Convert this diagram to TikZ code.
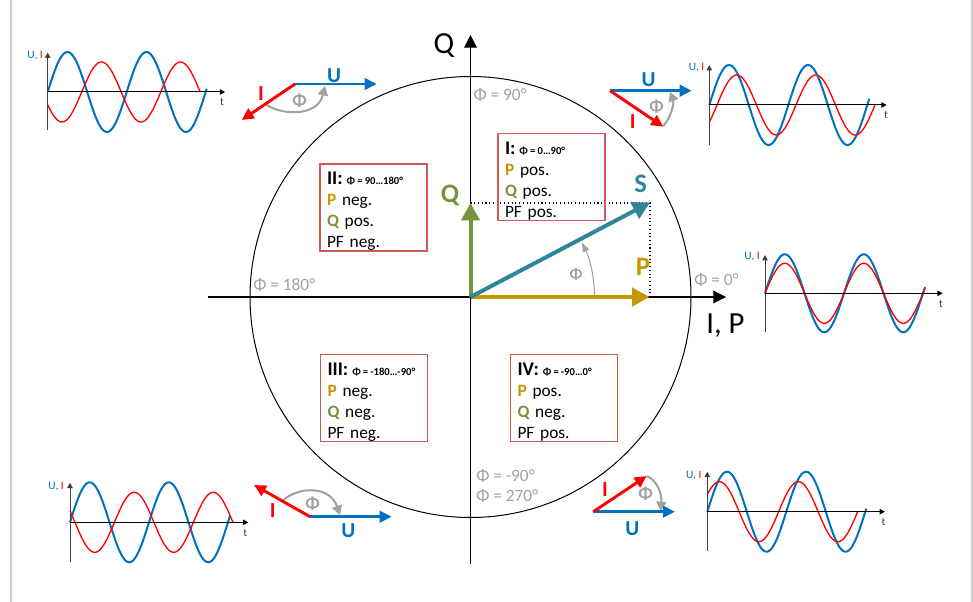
\documentclass[tikz,border=0pt]{standalone}
\usepackage{fontspec}
\setmainfont{Carlito}
\usetikzlibrary{arrows.meta}

\definecolor{uBlue}{RGB}{0,112,192}
\definecolor{iRed}{RGB}{255,0,0}
\definecolor{pGold}{RGB}{196,152,0}
\definecolor{qGreen}{RGB}{119,147,60}
\definecolor{sTeal}{RGB}{49,132,155}
\definecolor{phiGray}{RGB}{160,160,160}
\definecolor{boxRed}{RGB}{205,90,85}
\definecolor{frameGray}{RGB}{205,205,205}
\definecolor{tGray}{RGB}{64,64,64}

\begin{document}
\begin{tikzpicture}[x=0.75pt,y=0.75pt,yscale=-1,xscale=1,
	mainAxis/.style={line width=0.8pt,-{Triangle[length=9.5pt,width=9.5pt]}},
	vecArrow/.style={line width=3pt,-{Triangle[length=13pt,width=13.5pt]}},
	phasorArrow/.style={line width=2.2pt,-{Triangle[length=9pt,width=8.5pt]}},
	phiArc/.style={phiGray,line width=1.5pt,-{Triangle[length=7pt,width=7.5pt]}},
	waveAxis/.style={line width=0.75pt,-{Triangle[length=4pt,width=4pt]}},
	blueWave/.style={uBlue,line width=1.5pt},
	redWave/.style={iRed,line width=1pt},
	quadBox/.style={draw=boxRed,line width=1pt,inner xsep=5.25pt,inner ysep=0pt,minimum height=65.25pt,text width=69.75pt,align=left,font=\fontsize{13pt}{15.75pt}\selectfont\frenchspacing},
	phiLbl/.style={phiGray,inner sep=0pt,anchor=base west,font=\fontsize{13pt}{15pt}\selectfont},
	axisLbl/.style={inner sep=0pt,font=\fontsize{23pt}{26pt}\selectfont},
	vecLbl/.style={inner sep=0pt,font=\fontsize{20pt}{24pt}\selectfont\bfseries},
	phasorLbl/.style={inner sep=0pt,font=\fontsize{16pt}{19pt}\selectfont\bfseries},
	phasorPhi/.style={phiGray,inner sep=0pt,font=\fontsize{13.5pt}{16pt}\selectfont\bfseries},
	uiLbl/.style={inner sep=0pt,anchor=base east,font=\fontsize{8.5pt}{10pt}\selectfont},
	tLbl/.style={tGray,inner sep=0pt,anchor=base,font=\fontsize{8.5pt}{10pt}\selectfont}]
	\useasboundingbox (0,0) rectangle (973,602);
	
	%Frame
	\draw [frameGray,line width=1.5pt] (11,-2) -- (11,604);
	\draw [frameGray,line width=1.5pt] (971.5,-2) -- (971.5,604);
	
	%Shape: Circle
	\draw [line width=0.75pt] (470.5,297) circle [radius=220.5];
	%Main axes
	\draw [mainAxis] (208,297) -- (726,297);
	\draw [mainAxis] (470.5,564) -- (470.5,35);
	\node [axisLbl,anchor=base] (lblQaxis) at (444,54) {Q};
	\node [axisLbl,anchor=base west] (lblIP) at (706,333) {I, P};
	
	%Vectors
	\coordinate (O) at (470.5,297);
	\coordinate (Ptip) at (649.5,297);
	\coordinate (Qtip) at (470.5,203);
	\coordinate (Stip) at (650,202.5);
	\draw [dotted,line width=0.8pt] (Qtip) -- (650,203) -- (650,297);
	\draw [vecArrow,pGold] (O) -- (Ptip);
	\draw [vecArrow,qGreen] (O) -- (Qtip);
	\draw [vecArrow,sTeal] (O) -- (Stip);
	\node [vecLbl,text=sTeal] (lblS) at (640.7,184) {S};
	\node [vecLbl,text=pGold] (lblP) at (643,266.7) {P};
	\node [vecLbl,text=qGreen] (lblQ) at (450,195) {Q};
	%Curve Lines: angle
	\draw [phiGray,line width=0.75pt,-{Triangle[length=7pt,width=5pt]}] (594.5,297) arc [start angle=0,end angle=-26,radius=124];
	\node [phiGray,inner sep=0pt,font=\fontsize{12pt}{14pt}\selectfont\bfseries] (lblPhiMain) at (576,274) {Φ};
	
	%Angle labels on the circle
	\node [phiLbl] (phi90) at (473.3,101) {Φ = 90°};
	\node [phiLbl] (phi180) at (253,290.4) {Φ = 180°};
	\node [phiLbl] (phi0) at (694,285) {Φ = 0°};
	\node [phiLbl] (phiM90) at (476,481.7) {Φ = -90°};
	\node [phiLbl] (phi270) at (476,501.7) {Φ = 270°};
	
	%Quadrant boxes
	\node [quadBox] (boxI) at (551.5,177) {\rule{0pt}{15.5pt}{\fontsize{14.5pt}{15.75pt}\selectfont\bfseries I:}\hspace{3pt}{\fontsize{8pt}{9pt}\selectfont\bfseries Φ\hspace{1.6pt}=\hspace{1.6pt}0…90°}\\ \textcolor{pGold}{\bfseries P} pos.\\ \textcolor{qGreen}{\bfseries Q} pos.\\ PF pos.};
	\node [quadBox] (boxII) at (373.5,207.5) {\rule{0pt}{15.5pt}{\fontsize{14.5pt}{15.75pt}\selectfont\bfseries II:}\hspace{3pt}{\fontsize{8pt}{9pt}\selectfont\bfseries Φ\hspace{1.6pt}=\hspace{1.6pt}90…180°}\\ \textcolor{pGold}{\bfseries P} neg.\\ \textcolor{qGreen}{\bfseries Q} pos.\\ PF neg.};
	\node [quadBox] (boxIII) at (374,398) {\rule{0pt}{15.5pt}{\fontsize{14.5pt}{15.75pt}\selectfont\bfseries III:}\hspace{3pt}{\fontsize{8pt}{9pt}\selectfont\bfseries Φ\hspace{1.6pt}=\hspace{1.6pt}-180…-90°}\\ \textcolor{pGold}{\bfseries P} neg.\\ \textcolor{qGreen}{\bfseries Q} neg.\\ PF neg.};
	\node [quadBox] (boxIV) at (564,398) {\rule{0pt}{15.5pt}{\fontsize{14.5pt}{15.75pt}\selectfont\bfseries IV:}\hspace{3pt}{\fontsize{8pt}{9pt}\selectfont\bfseries Φ\hspace{1.6pt}=\hspace{1.6pt}-90…0°}\\ \textcolor{pGold}{\bfseries P} pos.\\ \textcolor{qGreen}{\bfseries Q} neg.\\ PF pos.};
	
	%Phasor: top left (II)
	\coordinate (tlO) at (295,84);
	\coordinate (tlU) at (376.7,84);
	\coordinate (tlI) at (241.7,120);
	\draw [phiArc] (266.7,105) .. controls (284,116) and (318,116) .. (325,86);
	\draw [phasorArrow,uBlue] (tlO) -- (tlU);
	\draw [phasorArrow,iRed] (tlO) -- (tlI);
	\node [phasorLbl,text=uBlue] (tlUlbl) at (334,75.5) {U};
	\node [phasorLbl,text=iRed] (tlIlbl) at (261,94) {I};
	\node [phasorPhi] (tlPhi) at (299.7,100.5) {Φ};
	
	%Phasor: top right (I)
	\coordinate (trO) at (610,90.7);
	\coordinate (trU) at (691.7,90.7);
	\coordinate (trI) at (663.3,126.7);
	\draw [phiArc] (663.3,126) .. controls (672,116) and (674,102) .. (670,92);
	\draw [phasorArrow,uBlue] (trO) -- (trU);
	\draw [phasorArrow,iRed] (trO) -- (trI);
	\node [phasorLbl,text=uBlue] (trUlbl) at (648.7,80) {U};
	\node [phasorLbl,text=iRed] (trIlbl) at (632.7,121.7) {I};
	\node [phasorPhi] (trPhi) at (656.5,106.3) {Φ};
	
	%Phasor: bottom left (III)
	\coordinate (blO) at (310,516.7);
	\coordinate (blU) at (391.7,516.7);
	\coordinate (blI) at (254,485);
	\draw [phiArc] (283.3,500) .. controls (300,486) and (330,486) .. (340,515);
	\draw [phasorArrow,uBlue] (blO) -- (blU);
	\draw [phasorArrow,iRed] (blO) -- (blI);
	\node [phasorLbl,text=uBlue] (blUlbl) at (348.3,531) {U};
	\node [phasorLbl,text=iRed] (blIlbl) at (272.7,510.7) {I};
	\node [phasorPhi] (blPhi) at (312.7,503.3) {Φ};
	
	%Phasor: bottom right (IV)
	\coordinate (brO) at (593.3,511.7);
	\coordinate (brU) at (675,511.7);
	\coordinate (brI) at (646.7,476);
	\draw [phiArc] (646.7,476) .. controls (657,480) and (662,494) .. (660.7,511);
	\draw [phasorArrow,uBlue] (brO) -- (brU);
	\draw [phasorArrow,iRed] (brO) -- (brI);
	\node [phasorLbl,text=uBlue] (brUlbl) at (632.3,528.5) {U};
	\node [phasorLbl,text=iRed] (brIlbl) at (605,489.3) {I};
	\node [phasorPhi] (brPhi) at (645.5,493.3) {Φ};
	
	%Waveform: top left
	\begin{scope}[shift={(47.7,92)}]
		\draw [blueWave] plot [domain=0:159,samples=120,smooth] (\x,{-40*sin(\x*4.557)});
		\draw [redWave] plot [domain=0:152.5,samples=120,smooth] (\x,{-30*sin(\x*4.557-155)});
		\draw [waveAxis,tGray] (0,38.5) -- (0,-39.5);
		\draw [waveAxis] (0,0) -- (177.5,0);
	\end{scope}
	\node [uiLbl] (tlUI) at (43,58.3) {\textcolor{uBlue}{U,} \textcolor{iRed}{I}};
	\node [tLbl] (tlT) at (222,106) {t};
	
	%Waveform: top right
	\begin{scope}[shift={(709.3,105)}]
		\draw [blueWave] plot [domain=0:160,samples=120,smooth] (\x,{-40*sin(\x*4.557)});
		\draw [redWave] plot [domain=0:165.7,samples=120,smooth] (\x,{-30*sin(\x*4.557-35)});
		\draw [waveAxis,tGray] (0,40) -- (0,-40);
		\draw [waveAxis] (0,0) -- (177.4,0);
	\end{scope}
	\node [uiLbl] (trUI) at (704.5,70.7) {\textcolor{uBlue}{U,} \textcolor{iRed}{I}};
	\node [tLbl] (trT) at (886,119) {t};
	
	%Waveform: middle right
	\begin{scope}[shift={(765,293.3)}]
		\draw [blueWave] plot [domain=0:160,samples=120,smooth] (\x,{-39*sin(\x*4.557)});
		\draw [redWave] plot [domain=0:160,samples=120,smooth] (\x,{-30*sin(\x*4.557)});
		\draw [waveAxis,tGray] (0,38.4) -- (0,-38.3);
		\draw [waveAxis] (0,0) -- (177.7,0);
	\end{scope}
	\node [uiLbl] (mrUI) at (760,259.3) {\textcolor{uBlue}{U,} \textcolor{iRed}{I}};
	\node [tLbl] (mrT) at (941,307.7) {t};
	
	%Waveform: bottom left
	\begin{scope}[shift={(70,522.3)}]
		\draw [blueWave] plot [domain=0:160,samples=120,smooth] (\x,{-40*sin(\x*4.557)});
		\draw [redWave] plot [domain=0:163,samples=120,smooth] (\x,{-30*sin(\x*4.557+157.5)});
		\draw [waveAxis,tGray] (0,39.4) -- (0,-39.6);
		\draw [waveAxis] (0,0) -- (178.3,0);
	\end{scope}
	\node [uiLbl] (blUI) at (64,489) {\textcolor{uBlue}{U,} \textcolor{iRed}{I}};
	\node [tLbl] (blT) at (245.3,536.7) {t};
	
	%Waveform: bottom right
	\begin{scope}[shift={(707.3,511.7)}]
		\draw [blueWave] plot [domain=0:159,samples=120,smooth] (\x,{-40*sin(\x*4.557)});
		\draw [redWave] plot [domain=0:150.3,samples=120,smooth] (\x,{-30*sin(\x*4.557+35)});
		\draw [waveAxis,tGray] (0,39) -- (0,-40);
		\draw [waveAxis] (0,0) -- (177.7,0);
	\end{scope}
	\node [uiLbl] (brUI) at (701.7,478.3) {\textcolor{uBlue}{U,} \textcolor{iRed}{I}};
	\node [tLbl] (brT) at (883.5,525) {t};
	
\end{tikzpicture}
\end{document}
